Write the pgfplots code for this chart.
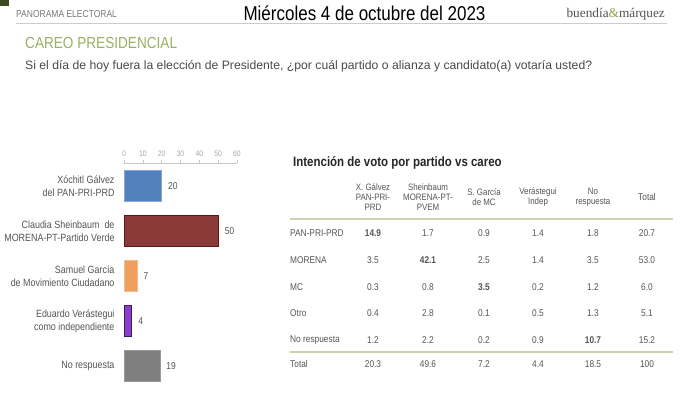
\documentclass[border=0pt]{standalone}
\usepackage{fontspec}
\setmainfont{Liberation Sans}[FakeStretch=0.85]
\newfontfamily\logofont{Liberation Serif}
\newfontfamily\widefont{Liberation Sans}
\usepackage{pgfplots}
\pgfplotsset{compat=1.18}
\definecolor{txt}{HTML}{555555}
\definecolor{hdrgray}{HTML}{777777}
\definecolor{olive}{HTML}{9BB062}
\definecolor{oliveline}{HTML}{C9D4AE}
\definecolor{sub}{HTML}{4A4A4A}
\definecolor{tickgray}{HTML}{A8A8A8}
\definecolor{cblue}{HTML}{5580BE}
\definecolor{cred}{HTML}{8B3A3A}
\definecolor{credb}{HTML}{5C1818}
\definecolor{corange}{HTML}{EFA05F}
\definecolor{cpurple}{HTML}{8A3FCB}
\definecolor{cpurpleb}{HTML}{40186A}
\definecolor{cgray}{HTML}{7F7F7F}
\definecolor{logogreen}{HTML}{8FA24A}
\definecolor{corner}{HTML}{3D4A1E}
\begin{document}
\begin{tikzpicture}
\fill[white] (0pt,0pt) rectangle (700pt,398pt);
% bar chart
\begin{axis}[
  at={(124pt,9.5pt)}, anchor=south west,
  scale only axis, width=113pt, height=225pt,
  xbar, bar width=31pt, bar shift=0pt,
  xmin=0, xmax=60, ymin=-0.5, ymax=4.5, y dir=reverse,
  axis x line*=top, axis y line*=left,
  y axis line style={draw=none},
  x axis line style={draw=black!22, line width=0.8pt},
  xtick={0,10,...,60},
  /pgf/number format/assume math mode=true,
  xticklabel style={font=\fontsize{8}{9}\selectfont, text=tickgray},
  xtick style={draw=black!22, line width=0.6pt},
  tick align=outside, major tick length=3pt,
  ytick={0,1,2,3,4},
  ytick style={draw=none},
  yticklabels={{Xóchitl Gálvez\\del PAN-PRI-PRD},{Claudia Sheinbaum\ \ de\\MORENA-PT-Partido Verde},{Samuel García\\de Movimiento Ciudadano},{Eduardo Verástegui\\como independiente},{No respuesta}},
  yticklabel style={align=right, font=\fontsize{10.5}{12.5}\selectfont, text=txt, xshift=-3pt},
  nodes near coords,
  every node near coord/.append style={font=\fontsize{10}{11}\selectfont, text=txt, xshift=3pt},
  clip=false,
]
\addplot[fill=cblue, draw=cblue!70!white] coordinates {(20,0)};
\addplot[fill=cred, draw=credb, line width=0.8pt] coordinates {(50,1)};
\addplot[fill=corange, draw=corange!70!white] coordinates {(7,2)};
\addplot[fill=cpurple, draw=cpurpleb, line width=0.8pt] coordinates {(4,3)};
\addplot[fill=cgray, draw=cgray!80!white] coordinates {(19,4)};
\end{axis}
\begin{scope}[x=1pt,y=1pt]
\fill[corner] (0,398) rectangle (9,392);
% header
\node[anchor=west, inner sep=0, font=\fontsize{10}{12}\selectfont, text=hdrgray] at (16,384) {PANORAMA ELECTORAL};
\node[inner sep=0, font=\fontsize{20}{22}\selectfont, text=black] at (364.5,385) {Miércoles 4 de octubre del 2023};
\node[anchor=east, inner sep=0, font=\logofont\fontsize{13.3}{16}\selectfont, text=hdrgray!70!black] at (665,384) {buendía\textcolor{logogreen}{\&}márquez};
\draw[draw=black!20, line width=1.2pt] (16,374.5) -- (667,374.5);
\node[anchor=west, inner sep=0, font=\fontsize{16}{18}\selectfont, text=olive] at (25,355) {CAREO PRESIDENCIAL};
\node[anchor=west, inner sep=0, font=\widefont\fontsize{12.2}{14}\selectfont, text=sub] at (25,332) {Si el día de hoy fuera la elección de Presidente, ¿por cuál partido o alianza y candidato(a) votaría usted?};
% table
\node[anchor=west, inner sep=0, font=\bfseries\fontsize{13.5}{15}\selectfont, text=black!85] at (293,235) {Intención de voto por partido vs careo};
\begin{scope}[every node/.style={inner sep=0, align=center, font=\fontsize{9.3}{10}\selectfont, text=txt}]
\node at (373,201) {X. Gálvez\\PAN-PRI-\\PRD};
\node at (428,201) {Sheinbaum\\MORENA-PT-\\PVEM};
\node at (484,201) {S. García\\de MC};
\node at (538,201) {Verástegui\\Indep};
\node at (593,201) {No\\respuesta};
\node[font=\fontsize{9.8}{11}\selectfont] at (647,201) {Total};
\end{scope}
\draw[draw=oliveline, line width=1.5pt] (290,179) -- (673,179);
\draw[draw=oliveline, line width=1.5pt] (290,46) -- (673,46);
\begin{scope}[every node/.style={inner sep=0, font=\fontsize{9.8}{11}\selectfont, text=txt}]
\foreach \lab/\yy in {PAN-PRI-PRD/165, MORENA/138, MC/111, Otro/85, No respuesta/58, Total/34}
  \node[anchor=west] at (290,\yy) {\lab};
\foreach \a/\b/\c/\d/\e/\f/\yy in {{\textbf{14.9}}/1.7/0.9/1.4/1.8/20.7/165, 3.5/{\textbf{42.1}}/2.5/1.4/3.5/53.0/138, 0.3/0.8/{\textbf{3.5}}/0.2/1.2/6.0/111, 0.4/2.8/0.1/0.5/1.3/5.1/85, 1.2/2.2/0.2/0.9/{\textbf{10.7}}/15.2/58, 20.3/49.6/7.2/4.4/18.5/100/34}{
  \node at (373,\yy) {\a};
  \node at (428,\yy) {\b};
  \node at (484,\yy) {\c};
  \node at (538,\yy) {\d};
  \node at (593,\yy) {\e};
  \node at (647,\yy) {\f};
}
\end{scope}
\end{scope}
\end{tikzpicture}
\end{document}
